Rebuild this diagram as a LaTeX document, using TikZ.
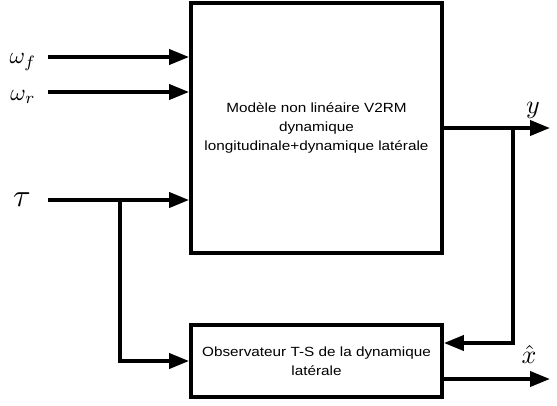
\documentclass[tikz,border=0pt]{standalone}
\usepackage{amsmath}
\usepackage{graphicx}
\usepackage{fontspec}
\newfontfamily\boxfont[FakeStretch=1.15]{Liberation Sans}
\usepackage{tikz}
\usetikzlibrary{arrows.meta,positioning}
\tikzset{blocky/.style={draw,rectangle,line width=3.8pt,minimum width=251pt,align=center,
        font=\boxfont\fontsize{13.3}{19}\selectfont},
    thickarrow/.style={line width=3.8pt,-{Triangle[length=20pt,width=15pt]}},
    siglabel/.style={inner sep=0}
}
\newcommand{\sig}[2]{\scalebox{#1}{$#2$}}
\begin{document}
\begin{tikzpicture}[x=1pt,y=-1pt]
\useasboundingbox (0,0) rectangle (557,405);

% blocks
\node (mainbox) at (316.5,128) [blocky,minimum height=250pt]
    {Modèle non linéaire V2RM\\dynamique\\longitudinale+dynamique latérale};
\node (obsbox) at (316.5,361) [blocky,minimum height=72pt]
    {Observateur T-S de la dynamique\\latérale};

% inputs
\coordinate (wfin) at (48,57);
\coordinate (wrin) at (48,92);
\coordinate (tauin) at (48,200);
\node (wf) at (23,62) [siglabel] {\sig{2.35}{\omega_f}};
\node (wr) at (23,97) [siglabel] {\sig{2.35}{\omega_r}};
\node (tau) at (22,200) [siglabel] {\sig{3.2}{\tau}};

\draw [thickarrow] (wfin) -- (wfin -| mainbox.west);
\draw [thickarrow] (wrin) -- (wrin -| mainbox.west);
\draw [thickarrow] (tauin) -- (tauin -| mainbox.west);

% tau branch to observer
\coordinate (taubr) at (120,200);
\draw [thickarrow] (taubr) |- (obsbox.west);

% output y and feedback
\coordinate (ybr) at (513,128);
\coordinate (yend) at (550,128);
\coordinate (fb) at (513,343);
\node (ylab) at (533,110) [siglabel] {\sig{2.6}{y}};
\draw [thickarrow] (mainbox.east |- yend) -- (yend);
\draw [thickarrow] (ybr) -- (fb) -- (fb -| obsbox.east);

% estimate
\coordinate (xend) at (550,379);
\node (xlab) at (529,354) [siglabel] {\sig{2.6}{\hat{x}}};
\draw [thickarrow] (obsbox.east |- xend) -- (xend);

\end{tikzpicture}
\end{document}
